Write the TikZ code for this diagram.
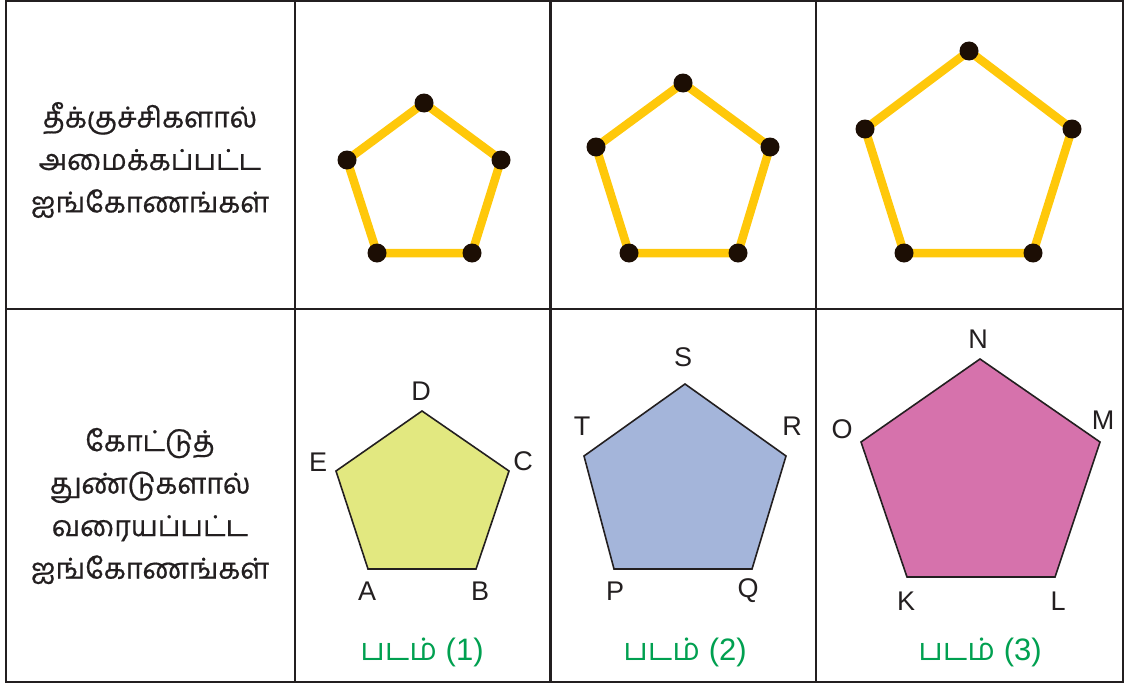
\documentclass[tikz,border=0pt]{standalone}
\usepackage{fontspec}
\setmainfont{Liberation Sans}
\newfontfamily\tamil[Script=Tamil,FakeBold=0.6]{Hind Madurai}
\newfontfamily\tamilcap[Script=Tamil]{Hind Madurai}
\begin{document}
\begin{tikzpicture}[x=1pt,y=-1pt,
  grid/.style={line width=2.8pt,draw={rgb,255:red,35;green,31;blue,32}},
  stick/.style={line width=8.5pt,draw={rgb,255:red,255;green,200;blue,10}},
  dot/.style={circle,fill={rgb,255:red,28;green,14;blue,4},minimum size=19pt,inner sep=0pt},
  poly/.style={line width=1.6pt,draw={rgb,255:red,35;green,31;blue,32},line join=miter},
  lbl/.style={font=\fontsize{27}{30}\selectfont,text={rgb,255:red,35;green,31;blue,32},inner sep=0pt},
  captext/.style={font=\fontsize{31}{34}\selectfont,text={rgb,255:red,0;green,160;blue,80},inner sep=0pt},
  tam/.style={font=\tamil\fontsize{28.6}{42.5}\selectfont,align=center,text={rgb,255:red,35;green,31;blue,32},inner sep=0pt}
]
\useasboundingbox (0,0) rectangle (1131,685);
\fill[white] (0,0) rectangle (1131,685);
% grid
\draw[grid] (6,1) rectangle (1123,682);
\draw[grid] (6,309) -- (1123,309);
\draw[grid] (295,1) -- (295,682);
\draw[grid] (550.5,1) -- (550.5,682);
\draw[grid] (816,1) -- (816,682);
% texts
\node[tam] (t1) at (150,160) {தீக்குச்சிகளால்\\அமைக்கப்பட்ட\\ஐங்கோணங்கள்};
\node[tam] (t2) at (150,506) {கோட்டுத்\\துண்டுகளால்\\வரையப்பட்ட\\ஐங்கோணங்கள்};
% matchstick pentagons
\coordinate (a1) at (424,103); \coordinate (a2) at (501,160); \coordinate (a3) at (472,253); \coordinate (a4) at (377,253); \coordinate (a5) at (347,160);
\draw[stick] (a1) -- (a2) -- (a3) -- (a4) -- (a5) -- cycle;
\foreach \p in {a1,a2,a3,a4,a5} \node[dot] (d\p) at (\p) {};
\coordinate (b1) at (683,83); \coordinate (b2) at (770,147); \coordinate (b3) at (738,253); \coordinate (b4) at (629,253); \coordinate (b5) at (596,147);
\draw[stick] (b1) -- (b2) -- (b3) -- (b4) -- (b5) -- cycle;
\foreach \p in {b1,b2,b3,b4,b5} \node[dot] (d\p) at (\p) {};
\coordinate (c1) at (969,51); \coordinate (c2) at (1072,129); \coordinate (c3) at (1033,253); \coordinate (c4) at (904,253); \coordinate (c5) at (865,129);
\draw[stick] (c1) -- (c2) -- (c3) -- (c4) -- (c5) -- cycle;
\foreach \p in {c1,c2,c3,c4,c5} \node[dot] (d\p) at (\p) {};
% filled pentagons
\coordinate (D) at (422,411); \coordinate (C) at (509,471); \coordinate (B) at (476,569); \coordinate (A) at (368,569); \coordinate (E) at (336,471);
\filldraw[poly,fill={rgb,255:red,226;green,232;blue,128}] (D) -- (C) -- (B) -- (A) -- (E) -- cycle;
\node[lbl] (lD) at (421,391) {D};
\node[lbl] (lE) at (318,462) {E};
\node[lbl] (lC) at (523,461) {C};
\node[lbl] (lA) at (367,591) {A};
\node[lbl] (lB) at (480,591) {B};
\node[captext] (k1) at (422,652) {{\tamilcap படம்} (1)};
\coordinate (S) at (685,384); \coordinate (R) at (786,456); \coordinate (Q) at (752,569); \coordinate (P) at (614,569); \coordinate (T) at (584,456);
\filldraw[poly,fill={rgb,255:red,164;green,181;blue,218}] (S) -- (R) -- (Q) -- (P) -- (T) -- cycle;
\node[lbl] (lS) at (683,357) {S};
\node[lbl] (lT) at (582,426) {T};
\node[lbl] (lR) at (792,426) {R};
\node[lbl] (lP) at (615,591) {P};
\node[lbl] (lQ) at (748,591) {Q};
\node[captext] (k2) at (685,652) {{\tamilcap படம்} (2)};
\coordinate (N) at (980,359); \coordinate (M) at (1100,442); \coordinate (L) at (1055,577); \coordinate (K) at (907,577); \coordinate (O) at (861,442);
\filldraw[poly,fill={rgb,255:red,214;green,114;blue,172}] (N) -- (M) -- (L) -- (K) -- (O) -- cycle;
\node[lbl] (lN) at (978,339) {N};
\node[lbl] (lO) at (842,429) {O};
\node[lbl] (lM) at (1103,420) {M};
\node[lbl] (lK) at (906,601) {K};
\node[lbl] (lL) at (1058,601) {L};
\node[captext] (k3) at (980,652) {{\tamilcap படம்} (3)};
\end{tikzpicture}
\end{document}
